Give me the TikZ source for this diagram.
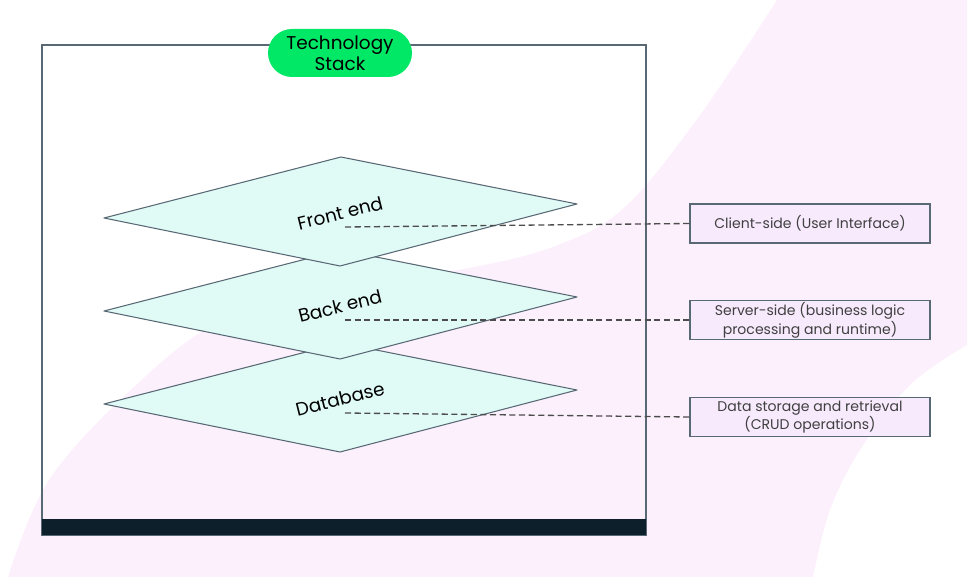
\documentclass[tikz,border=0pt]{standalone}
\usepackage{fontspec}
\setmainfont{Poppins}
\usetikzlibrary{positioning}
\definecolor{blush}{RGB}{252,240,252}
\definecolor{rahmen}{RGB}{88,104,116}
\definecolor{mint}{RGB}{224,250,246}
\definecolor{lila}{RGB}{247,234,252}
\definecolor{gruen}{RGB}{0,232,102}
\definecolor{balken}{RGB}{12,31,42}
\tikzset{schicht/.style={draw=rahmen,fill=mint,line width=0.6pt,line join=round},
	etikett/.style={rotate=14,inner sep=0,font=\fontsize{10.5}{12}\selectfont},
	kasten/.style={rectangle,draw=rahmen,fill=lila,line width=0.7pt,minimum width=4.8cm,minimum height=0.78cm,
		inner sep=0,align=center,text=black!75,font=\fontsize{8}{9.5}\selectfont},
	leitung/.style={draw=black!70,dash pattern=on 3.5pt off 2pt,line width=0.75pt},
	titel/.style={rectangle,fill=gruen,rounded corners=0.48cm,minimum width=2.88cm,minimum height=0.96cm,
		inner sep=0,align=center,font=\fontsize{10.5}{12}\selectfont} }

\begin{document}
\begin{tikzpicture}
	[x=0.02cm, y=-0.02cm]
  \useasboundingbox (0,0) rectangle (971,580);

  % background band
  \fill[blush] plot[smooth, tension=0.6] coordinates {(8,577) (49,480) (134,387) (220,322) (340,287) (469,268) (558,245) (625,207) (700,115) (777,0)}
  	-- (967,0) -- (967,345)
  	-- plot[smooth, tension=0.6] coordinates {(967,345) (910,385) (860,450) (830,510) (813,577)} -- cycle;

  \draw[rahmen, line width=0.85pt] (42,45) rectangle (646,535);
  \fill[balken] (42,519) rectangle (646,535);
  \node (stack) [titel] at (340,53) {Technology\\Stack};

  \foreach \name/\text/\dy in {db/Database/186, back/Back end/93, front/Front end/0} {
  	\draw[schicht] (104,218+\dy) -- (341,157+\dy) -- (577,204+\dy) -- (340,266+\dy) -- cycle;
  	\node (\name) [etikett] at (340,213+\dy) {\text};
  	\coordinate (\name-a) at (345,227+\dy);
  }

  \node (client) [kasten] at (810,223.5) {Client-side (User Interface)};
  \node (server) [kasten] at (810,320) {Server-side (business logic\\processing and runtime)};
  \node (store) [kasten] at (810,417) {Data storage and retrieval\\(CRUD operations)};

  \draw[leitung] (front-a) -- (client.west);
  \draw[leitung] (back-a) -- (server.west);
  \draw[leitung] (db-a) -- (store.west);
\end{tikzpicture}
\end{document}
